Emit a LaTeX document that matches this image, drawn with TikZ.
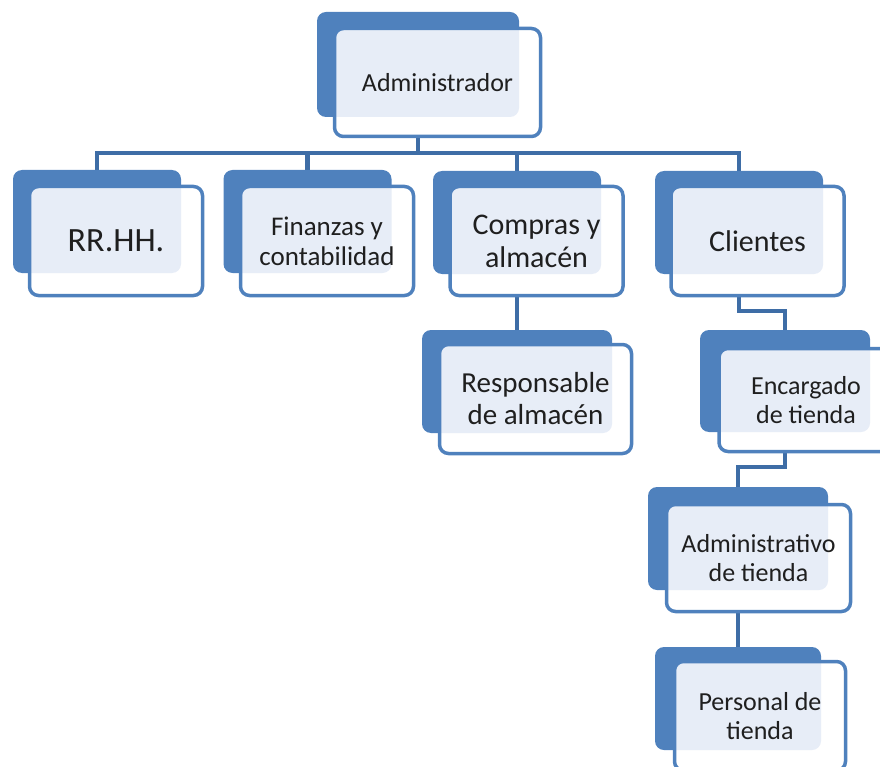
\documentclass[tikz,border=0pt]{standalone}
\usepackage{fontspec}
\setmainfont{Carlito}
\usetikzlibrary{backgrounds}
\definecolor{azul}{HTML}{4F81BD}
\definecolor{azuloscuro}{HTML}{3E6DA6}
\definecolor{celeste}{HTML}{E7EDF7}
\tikzset{
  fondo/.style={rectangle, rounded corners=9pt, fill=azul, draw=none, inner sep=0pt, outer sep=0pt,
    minimum width=168pt, minimum height=103pt},
  frente/.style={rectangle, rounded corners=9pt, fill=white, draw=azul, line width=3.5pt, inner sep=0pt,
    minimum width=173pt, minimum height=109pt, align=center, text=black!88,
    path picture={\fill[celeste, rounded corners=9pt] (#1.north west) rectangle (#1.south east);}},
  linea/.style={azuloscuro, line width=4.5pt},
}
\begin{document}
\begin{tikzpicture}[x=1pt,y=-1pt]
\useasboundingbox (0,0) rectangle (880,767);

% Administrador
\node[fondo, minimum width=202pt, minimum height=105pt] (adminF) at (418,64.5) {};
\node[frente=adminF, minimum width=206pt, minimum height=108pt, font=\fontsize{26}{29}\selectfont] (admin) at (437.5,82.5) {Administrador};

% primer nivel
\node[fondo] (rrhhF) at (97,221.5) {};
\node[frente=rrhhF, font=\fontsize{34}{37}\selectfont] (rrhh) at (116,241) {RR.HH.};

\node[fondo] (finanzasF) at (307.5,221.5) {};
\node[frente=finanzasF, font=\fontsize{27}{30}\selectfont] (finanzas) at (327,241) {Finanzas y\\contabilidad};

\node[fondo] (comprasF) at (517,222.5) {};
\node[frente=comprasF, font=\fontsize{30}{33}\selectfont] (compras) at (536.5,241) {Compras y\\almacén};

\node[fondo] (clientesF) at (739,222.5) {};
\node[frente=clientesF, font=\fontsize{30}{33}\selectfont] (clientes) at (757.5,241) {Clientes};

% segundo nivel
\node[fondo, minimum width=190pt] (responsableF) at (517,381.5) {};
\node[frente=responsableF, minimum width=192pt, font=\fontsize{29}{32}\selectfont] (responsable) at (535.5,399) {Responsable\\de almacén};

\node[fondo, minimum width=170pt, minimum height=102pt] (encargadoF) at (785,381) {};
\node[frente=encargadoF, minimum width=174pt, minimum height=103pt, font=\fontsize{26}{28.5}\selectfont] (encargado) at (806,400) {Encargado\\de tienda};

\node[fondo, minimum width=180pt] (administrativoF) at (738,538.5) {};
\node[frente=administrativoF, minimum width=184pt, minimum height=107pt, font=\fontsize{26}{28.5}\selectfont] (administrativo) at (758.5,558) {Administrativo\\de tienda};

\node[fondo, minimum width=166pt] (personalF) at (738,698.5) {};
\node[frente=personalF, minimum width=171pt, font=\fontsize{26}{28.5}\selectfont] (personal) at (760,716) {Personal de\\tienda};

% conectores
\begin{scope}[on background layer]
\coordinate (bus) at (418,153);
\draw[linea] (adminF.south) -- (adminF.south |- bus);
\draw[linea] (rrhhF.north) |- (bus) -| (clientesF.north);
\draw[linea] (finanzasF.north) -- (finanzasF.north |- bus);
\draw[linea] (comprasF.north) -- (comprasF.north |- bus);
\draw[linea] (comprasF.south) -- (responsableF.north);
\draw[linea] (clientesF.south) -- ++(0,37) -| (encargadoF.north);
\draw[linea] (encargadoF.south) -- ++(0,35) -| (administrativoF.north);
\draw[linea] (administrativoF.south) -- (personalF.north);
\end{scope}
\end{tikzpicture}
\end{document}
